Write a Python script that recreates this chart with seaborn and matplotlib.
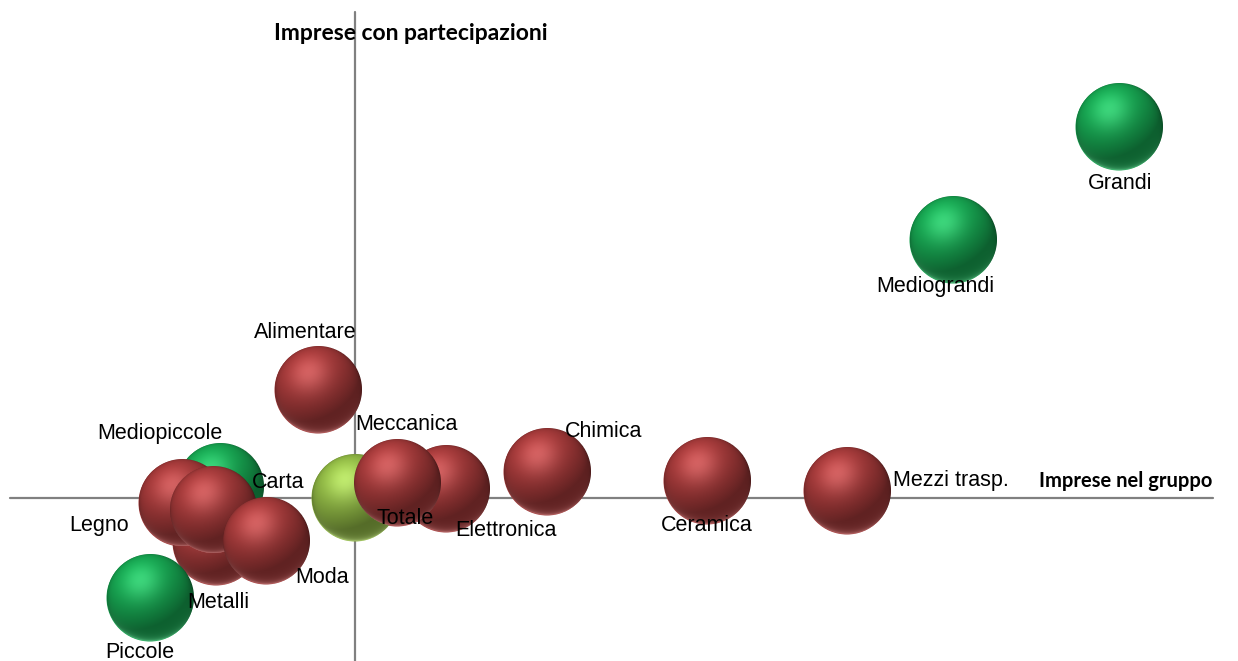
import numpy as np
import pandas as pd
import matplotlib
matplotlib.use("Agg")
import matplotlib.pyplot as plt
import seaborn as sns
from matplotlib.colors import to_rgb
from matplotlib.offsetbox import OffsetImage, AnnotationBbox

# Dati (elencati dal fondo verso il primo piano)
nomi = ["Grandi", "Mediograndi", "Mediopiccole", "Metalli", "Legno", "Carta",
        "Moda", "Piccole", "Totale", "Elettronica", "Meccanica", "Alimentare",
        "Chimica", "Ceramica", "Mezzi trasp."]
imprese_nel_gruppo = [68.2, 59.9, 23.25, 23.05, 21.35, 22.9, 25.55, 19.75,
                      30.0, 34.55, 32.1, 28.15, 39.6, 47.6, 54.6]
imprese_con_partecipazioni = [38.55, 32.9, 20.55, 17.8, 19.75, 19.4, 17.85, 15.0,
                              20.0, 20.45, 20.75, 25.4, 21.3, 20.85, 20.35]
tipo = ["Dimensione", "Dimensione", "Dimensione", "Settore", "Settore", "Settore",
        "Settore", "Dimensione", "Totale", "Settore", "Settore", "Settore",
        "Settore", "Settore", "Settore"]

colori = {"Settore": "#a03838", "Dimensione": "#16a14f", "Totale": "#8db443"}

# Posizione delle etichette rispetto al centro della bolla (pixel, alto = +)
etichette = {
    "Grandi": (1, -57, "center"), "Mediograndi": (-18, -47, "center"),
    "Mediopiccole": (-60, 53, "center"), "Metalli": (2, -60, "center"),
    "Legno": (-83, -23, "center"), "Carta": (65, 28, "center"),
    "Moda": (56, -37, "center"), "Piccole": (-10, -54, "center"),
    "Totale": (50, -21, "center"), "Elettronica": (60, -41, "center"),
    "Meccanica": (9, 58, "center"), "Alimentare": (-13, 57, "center"),
    "Chimica": (57, 40, "center"), "Ceramica": (0, -45, "center"),
    "Mezzi trasp.": (46, 10, "left"),
}

df = pd.DataFrame({"nome": nomi, "x": imprese_nel_gruppo,
                   "y": imprese_con_partecipazioni, "tipo": tipo})
x_tot = df.loc[df.nome == "Totale", "x"].item()
y_tot = df.loc[df.nome == "Totale", "y"].item()

DPI = 100
sns.set_style("white")
fig = plt.figure(figsize=(12.38, 6.61), dpi=DPI)
ax = fig.add_axes([0, 0, 1, 1])

sns.scatterplot(data=df, x="x", y="y", hue="tipo", palette=colori, s=3924,
                linewidth=0, legend=False, ax=ax, zorder=2)

ax.set_xlim(12.25, 74.15)
ax.set_ylim(11.85, 44.9)
ax.set_axis_off()

# Assi che si incrociano sul valore totale
ax.axhline(y_tot, xmin=10 / 1238, xmax=1213 / 1238, color="#808080", lw=1.6, zorder=1)
ax.axvline(x_tot, ymin=0, ymax=649 / 661, color="#808080", lw=1.6, zorder=1)


def sfera(colore, d):
    """Bolla sferica ombreggiata, d = diametro in pixel."""
    n = int(round(d))
    c = (np.arange(n) + 0.5) / n * 2 - 1
    u, v = np.meshgrid(c, c)
    r = np.sqrt(u ** 2 + v ** 2)
    w = np.sqrt(np.clip(1 - r ** 2, 0, 1))
    nx, ny, nz = u, -v, w
    L = np.array([-0.38, 0.67, 0.62])
    L /= np.linalg.norm(L)
    H = L + np.array([0, 0, 1.0])
    H /= np.linalg.norm(H)
    diff = np.clip(nx * L[0] + ny * L[1] + nz * L[2], 0, 1)
    spec = np.clip(nx * H[0] + ny * H[1] + nz * H[2], 0, 1) ** 10
    rim = np.clip(-ny, 0, 1) ** 1.5 * (1 - w) ** 3
    bordo = (1 - w) ** 4
    base = np.array(to_rgb(colore))
    chiaro = base + (1 - base) * 0.5
    rgb = (base * (0.60 + 0.48 * diff - 0.22 * bordo)[..., None]
           + 0.20 * spec[..., None] * (0.4 + 0.6 * chiaro)
           + 0.70 * rim[..., None] * chiaro)
    rgb = np.clip(rgb, 0, 1)
    alpha = np.clip((1 - r) * n / 2 + 0.5, 0, 1)
    return np.dstack([rgb, alpha])


punti = ax.collections[0]
dimensioni = np.broadcast_to(punti.get_sizes(), (len(df),))
for i, riga in df.iterrows():
    d_px = np.sqrt(dimensioni[i]) * DPI / 72
    img = OffsetImage(sfera(colori[riga.tipo], d_px), zoom=1, dpi_cor=False)
    ab = AnnotationBbox(img, (riga.x, riga.y), xycoords="data", frameon=False,
                        pad=0, box_alignment=(0.5, 0.5))
    ab.set_zorder(3 + i * 0.01)
    ax.add_artist(ab)

for _, riga in df.iterrows():
    dx, dy, ha = etichette[riga.nome]
    ax.annotate(riga.nome, (riga.x, riga.y), xytext=(dx, dy),
                textcoords="offset pixels", ha=ha, va="center",
                fontsize=15.5, family="Liberation Sans", color="black", zorder=10)

fig.text(411 / 1238, 1 - 33 / 661, "Imprese con partecipazioni", ha="center",
         va="center", fontsize=16.5, fontweight="bold", family="Lato", color="black")
ax.annotate("Imprese nel gruppo", (1, y_tot), xycoords=("axes fraction", "data"),
            xytext=(-26, 17), textcoords="offset pixels", ha="right", va="center",
            fontsize=14.5, fontweight="bold", family="Lato", color="black", zorder=10)

fig.savefig("out.png", dpi=DPI)
